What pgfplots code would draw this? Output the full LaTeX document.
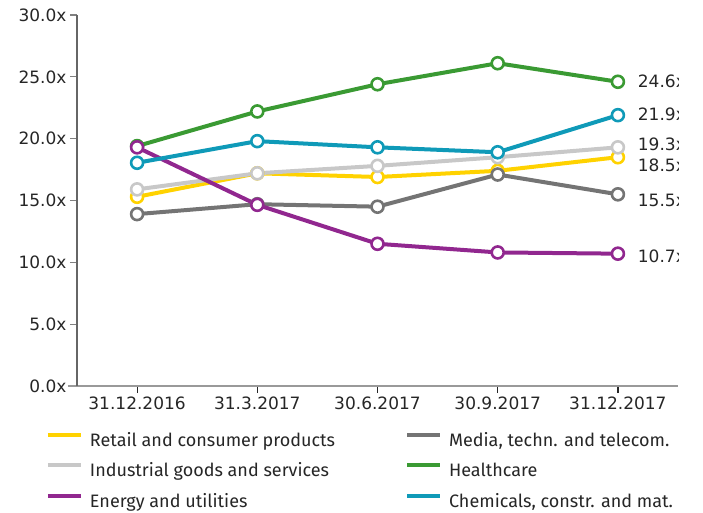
\documentclass[border=0pt]{standalone}
\usepackage{pgfplots}
\pgfplotsset{compat=1.18}
\usepackage{fontspec}
\setmainfont{DejaVu Sans}
\newfontfamily\legendfont{Fira Sans}

\definecolor{eyyellow}{HTML}{FFD200}
\definecolor{eylgray}{HTML}{C8C8C8}
\definecolor{eydgray}{HTML}{747474}
\definecolor{eygreen}{HTML}{3A9A33}
\definecolor{eyteal}{HTML}{0F9AB8}
\definecolor{eypurple}{HTML}{91278F}

\tikzset{endlabel/.style={anchor=base west, inner sep=0pt, outer sep=0pt,
    font=\fontsize{17}{20}\selectfont, text=black!85}}

\begin{document}
\begin{tikzpicture}
\path[use as bounding box] (-77pt,-127pt) rectangle (626pt,386pt);
\begin{axis}[
    at={(0,0)}, anchor=south west,
    scale only axis,
    width=601pt, height=371pt,
    xmin=-0.5, xmax=4.5,
    ymin=0, ymax=30,
    axis lines*=left,
    x axis line style={draw=black!40, line width=2.5pt, shorten <=-9pt},
    y axis line style={draw=black!60, line width=1.2pt},
    tick align=outside,
    major tick length=7pt,
    xtick={0,1,2,3,4},
    xticklabels={31.12.2016, 31.3.2017, 30.6.2017, 30.9.2017, 31.12.2017},
    ytick={0,5,10,15,20,25,30},
    yticklabels={0.0x,5.0x,10.0x,15.0x,20.0x,25.0x,30.0x},
    xtick style={draw=black!85, line width=1.2pt},
    ytick style={draw=black!50, line width=1.2pt},
    ticklabel style={font=\fontsize{17}{20}\selectfont, text=black!85},
    mark size=6pt,
    legend columns=2,
    legend cell align=left,
    legend style={
        at={(axis description cs:-0.0516,-0.126)}, anchor=north west,
        draw=none, fill=none, inner sep=0pt, outer sep=0pt,
        row sep=13pt,
        font=\legendfont\fontsize{18}{20}\selectfont,
        nodes={inner sep=0pt, text height=13pt, text depth=4pt, text=black!85},
        /tikz/column 1/.style={column sep=7pt},
        /tikz/column 2/.style={column sep=70pt},
        /tikz/column 3/.style={column sep=7pt},
    },
    legend image code/.code={\draw[#1, line width=4pt] (0pt,7pt) -- (33pt,7pt);},
]
\addplot[eyyellow, line width=4pt, mark=*, mark options={fill=white, line width=2.6pt}]
  coordinates {(0,15.3)(1,17.2)(2,16.9)(3,17.4)(4,18.5)};
\addplot[eydgray, line width=4pt, mark=*, mark options={fill=white, line width=2.6pt}]
  coordinates {(0,13.9)(1,14.7)(2,14.5)(3,17.1)(4,15.5)};
\addplot[eylgray, line width=4pt, mark=*, mark options={fill=white, line width=2.6pt}]
  coordinates {(0,15.9)(1,17.2)(2,17.8)(3,18.5)(4,19.3)};
\addplot[eygreen, line width=4pt, mark=*, mark options={fill=white, line width=2.6pt}]
  coordinates {(0,19.4)(1,22.2)(2,24.4)(3,26.1)(4,24.6)};
\addplot[eypurple, line width=4pt, mark=*, mark options={fill=white, line width=2.6pt}]
  coordinates {(0,19.3)(1,14.65)(2,11.5)(3,10.8)(4,10.7)};
\addplot[eyteal, line width=4pt, mark=*, mark options={fill=white, line width=2.6pt}]
  coordinates {(0,18.05)(1,19.8)(2,19.3)(3,18.9)(4,21.9)};
\legend{Retail and consumer products, {Media, techn. and telecom.},
        Industrial goods and services, Healthcare,
        Energy and utilities, {Chemicals, constr. and mat.}}

% value labels at the right end of the lines
\node[endlabel, xshift=20pt, yshift=-5.3pt]  at (axis cs:4,24.6) {24.6x};
\node[endlabel, xshift=20pt, yshift=-5pt]    at (axis cs:4,21.9) {21.9x};
\node[endlabel, xshift=20pt, yshift=-2.7pt]  at (axis cs:4,19.3) {19.3x};
\node[endlabel, xshift=20pt, yshift=-14pt]   at (axis cs:4,18.5) {18.5x};
\node[endlabel, xshift=20pt, yshift=-11.7pt] at (axis cs:4,15.5) {15.5x};
\node[endlabel, xshift=20pt, yshift=-8.4pt]  at (axis cs:4,10.7) {10.7x};
\end{axis}
\end{tikzpicture}
\end{document}
